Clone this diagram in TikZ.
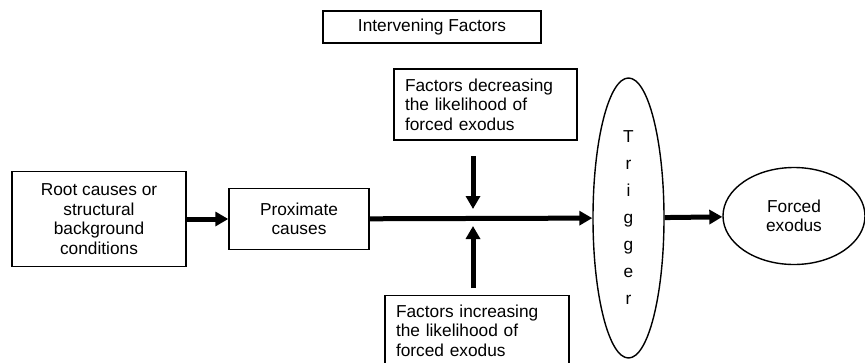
\documentclass[tikz,border=0pt]{standalone}
\usepackage{fontspec}
\setmainfont{Liberation Sans}
\usetikzlibrary{shapes.geometric,arrows.meta}
\begin{document}
\begin{tikzpicture}[x=1pt, y=-1pt]
		\tikzset{bx/.style={rectangle, draw=black, line width=1.4pt, align=center, inner sep=0pt, font=\fontsize{17.3}{19.5}\selectfont},
			lbx/.style={rectangle, draw=black, line width=1.4pt, align=left, inner xsep=11pt, inner ysep=9pt, font=\fontsize{17.3}{19.5}\selectfont},
			el/.style={ellipse, draw=black, line width=1.4pt, align=center, inner sep=0pt, font=\fontsize{17.3}{19.5}\selectfont},
			arr/.style={line width=5pt, -{Triangle[length=13pt, width=14pt]}}};

		\useasboundingbox (0, 0) rectangle (865, 362);

		\node[bx, minimum width=218pt, minimum height=32pt] (if) at (432, 27) {Intervening Factors};
		\node[bx, minimum width=174pt, minimum height=95pt] (root) at (99, 219) {Root causes or\\structural\\background\\conditions};
		\node[bx, minimum width=140pt, minimum height=61pt] (prox) at (299, 219) {Proximate\\causes};
		\node[lbx, text width=161pt, minimum height=71pt] (dec) at (485.5, 104.5) {Factors decreasing\\the likelihood of\\forced exodus};
		\node[lbx, text width=162pt, anchor=north] (inc) at (477, 295) {Factors increasing\\the likelihood of\\forced exodus};
		\node[el, minimum width=71pt, minimum height=280pt, font=\fontsize{17.3}{27}\selectfont] (trig) at (628.5, 218) {T\\r\\i\\g\\g\\e\\r};
		\node[el, minimum width=142pt, minimum height=97pt] (forced) at (794, 216) {Forced\\exodus};

		\coordinate (dn1) at (473, 156);
		\coordinate (dn2) at (473, 209);
		\coordinate (up1) at (473, 288);
		\coordinate (up2) at (473, 226);

		\draw[arr] (root) to (prox);
		\draw[arr] (prox) to (trig);
		\draw[arr] (trig) to (forced);

		\draw[arr] (dn1) to (dn2);
		\draw[arr] (up1) to (up2);
	\end{tikzpicture}
\end{document}
